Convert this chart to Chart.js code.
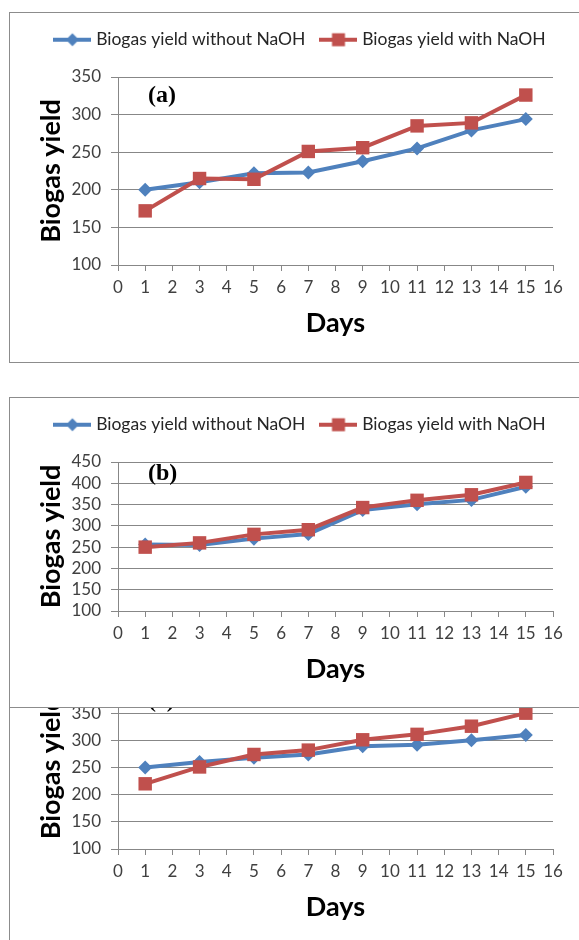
<!DOCTYPE html>
<html>
<head>
<meta charset="utf-8">
<script src="https://cdn.jsdelivr.net/npm/chart.js@4.4.1/dist/chart.umd.min.js"></script>
<style>
  html, body { margin: 0; padding: 0; background: #fff; width: 579px; height: 940px; overflow: hidden; }
  .frame {
    position: absolute; left: 9px; width: 640px; box-sizing: border-box; overflow: hidden;
    border-left: 1px solid #8c8c8c; border-top: 1px solid #8c8c8c;
  }
  #frameA { top: 12px; height: 351px; border-bottom: 1px solid #8c8c8c; }
  #frameB { top: 397px; height: 310px; }
  #frameC { top: 707px; height: 233px; }
  .frame canvas { position: absolute; left: 0; }
</style>
</head>
<body>
<div class="frame" id="frameA"><canvas id="chartA" width="569" height="348" style="top:0"></canvas></div>
<div class="frame" id="frameB"><canvas id="chartB" width="569" height="309" style="top:0"></canvas></div>
<div class="frame" id="frameC"><canvas id="chartC" width="569" height="323" style="top:-86px"></canvas></div>

<script>
// sampling days (shared by all three panels)
const days = [1, 3, 5, 7, 9, 11, 13, 15];

// panel (a)
const yieldWithoutA = [200, 210, 222, 223, 238, 255, 279, 294];
const yieldWithA = [172, 215, 214, 251, 256, 285, 289, 326];

// panel (b)
const yieldWithoutB = [256, 255, 270, 281, 337, 351, 361, 392];
const yieldWithB = [250, 260, 280, 291, 343, 360, 373, 402];

// panel (c)
const yieldWithoutC = [250, 260, 268, 274, 289, 292, 300, 310];
const yieldWithC = [220, 251, 274, 282, 301, 311, 326, 350];

const seriesNames = ["Biogas yield without NaOH", "Biogas yield with NaOH"];
const blue = "#4F81BD";
const red = "#C0504D";
const gridColor = "#878787";
const tickColor = "#404040";

Chart.defaults.font.family = "Lato, 'Open Sans', sans-serif";
Chart.defaults.devicePixelRatio = 1;

function toPoints(values) {
  return values.map((v, i) => ({ x: days[i], y: v }));
}

// small line + marker glyph for the legend
function legendGlyph(color, style) {
  const c = document.createElement("canvas");
  c.width = 38;
  c.height = 16;
  const ctx = c.getContext("2d");
  ctx.strokeStyle = color;
  ctx.fillStyle = color;
  ctx.lineWidth = 4;
  ctx.beginPath();
  ctx.moveTo(0, 8);
  ctx.lineTo(38, 8);
  ctx.stroke();
  ctx.beginPath();
  if (style === "rectRot") {
    ctx.moveTo(19, 1.5);
    ctx.lineTo(25.5, 8);
    ctx.lineTo(19, 14.5);
    ctx.lineTo(12.5, 8);
    ctx.closePath();
  } else {
    ctx.rect(12.5, 1.5, 13, 13);
  }
  ctx.fill();
  return c;
}

// room between legend and plot, and nudge the legend row to the right
const legendPlacement = {
  id: "legendPlacement",
  beforeLayout(chart, args, opts) {
    const legend = chart.legend;
    if (!legend || legend._gapPatched) return;
    const fit = legend.fit;
    legend.fit = function () {
      fit.call(this);
      this.height += opts.extra || 0;
    };
    legend._gapPatched = true;
  },
  afterLayout(chart, args, opts) {
    if (!chart.legend) return;
    chart.legend.left += opts.shift || 0;
    chart.legend.right += opts.shift || 0;
  }
};

// "(a)", "(b)", "(c)" panel tags
const panelLabel = {
  id: "panelLabel",
  afterDraw(chart, args, opts) {
    const { ctx, chartArea } = chart;
    ctx.save();
    ctx.font = "bold 24px 'Liberation Serif', serif";
    ctx.fillStyle = "#000";
    ctx.textBaseline = "middle";
    ctx.fillText(opts.text, chartArea.left + opts.dx, chartArea.top + opts.dy);
    ctx.restore();
  }
};

function makeChart(canvasId, withoutValues, withValues, yMax, label, labelDy) {
  const ctx = document.getElementById(canvasId).getContext("2d");

  return new Chart(ctx, {
    type: "line",
    data: {
      datasets: [
        {
          label: seriesNames[0],
          data: toPoints(withoutValues),
          borderColor: blue,
          backgroundColor: blue,
          borderWidth: 4,
          pointStyle: "rectRot",
          pointRadius: 7,
          pointBorderWidth: 0,
          tension: 0,
          order: 1
        },
        {
          label: seriesNames[1],
          data: toPoints(withValues),
          borderColor: red,
          backgroundColor: red,
          borderWidth: 4,
          pointStyle: "rect",
          pointRadius: 9.5,
          pointBorderWidth: 0,
          tension: 0,
          order: 0
        }
      ]
    },
    options: {
      responsive: false,
      animation: false,
      events: [],
      layout: { padding: { top: 0, left: 10, right: 26, bottom: 0 } },
      scales: {
        x: {
          type: "linear",
          min: 0,
          max: 16,
          ticks: { stepSize: 1, autoSkip: false, color: tickColor, font: { size: 17 }, padding: 6 },
          grid: { drawOnChartArea: false, tickLength: 6, color: gridColor },
          border: { color: gridColor },
          title: {
            display: true,
            text: "Days",
            color: "#000",
            font: { size: 27, weight: "bold" },
            padding: { top: 0, bottom: 22 }
          },
          afterFit(scale) { scale.height = 96; }
        },
        y: {
          min: 100,
          max: yMax,
          ticks: { stepSize: 50, autoSkip: false, color: tickColor, font: { size: 17 }, padding: 10 },
          grid: { color: gridColor, tickLength: 7 },
          border: { color: gridColor },
          title: {
            display: true,
            text: "Biogas yield",
            color: "#000",
            font: { size: 27, weight: "bold" },
            padding: { top: 15, bottom: 0 }
          },
          afterFit(scale) { scale.width = 98; }
        }
      },
      plugins: {
        legend: {
          position: "top",
          labels: {
            usePointStyle: true,
            pointStyleWidth: 30,
            padding: 18,
            color: "#262626",
            font: { size: 17.5 },
            sort: (a, b) => a.datasetIndex - b.datasetIndex,
            generateLabels(chart) {
              const items = Chart.defaults.plugins.legend.labels.generateLabels(chart);
              items.forEach(item => {
                const ds = chart.data.datasets[item.datasetIndex];
                item.pointStyle = legendGlyph(ds.borderColor, ds.pointStyle);
              });
              return items;
            }
          }
        },
        tooltip: { enabled: false },
        legendPlacement: { extra: 18.5, shift: 15 },
        panelLabel: { text: label, dx: 30, dy: labelDy }
      }
    },
    plugins: [legendPlacement, panelLabel]
  });
}

makeChart("chartA", yieldWithoutA, yieldWithA, 350, "(a)", 18.5);
makeChart("chartB", yieldWithoutB, yieldWithB, 450, "(b)", 11.5);
makeChart("chartC", yieldWithoutC, yieldWithC, 400, "(c)", 15);
</script>
</body>
</html>
